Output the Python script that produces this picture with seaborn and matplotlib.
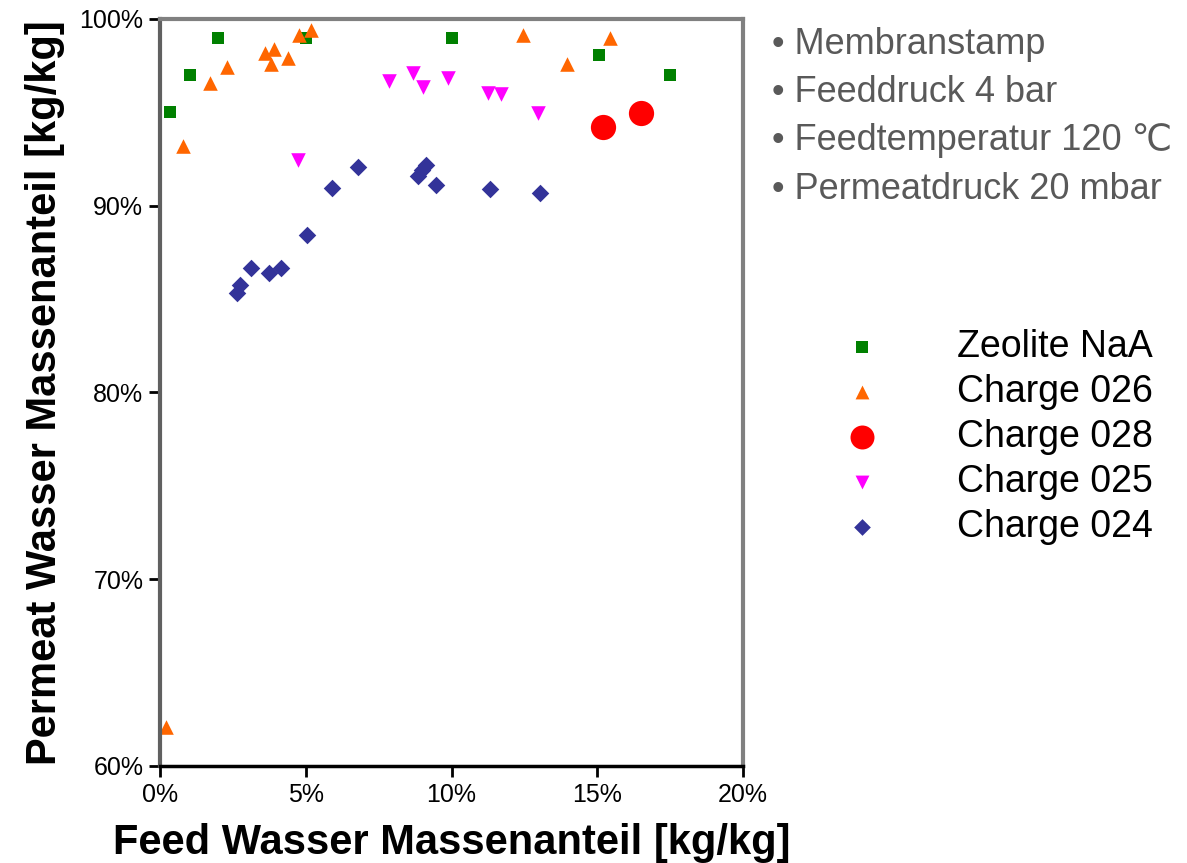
import seaborn as sns
import matplotlib.pyplot as plt
import pandas as pd

# Feed / permeat water mass fractions in %
zeolite_x = [0.34, 1.03, 2.0, 5.0, 10.0, 15.05, 17.5]
zeolite_y = [95.0, 97.0, 99.0, 99.0, 99.0, 98.05, 97.0]

c026_x = [0.2, 0.79, 1.72, 2.29, 3.6, 3.82, 3.9, 4.4, 4.77, 5.18, 12.45, 13.96, 15.44]
c026_y = [62.1, 93.2, 96.55, 97.45, 98.2, 97.6, 98.4, 97.9, 99.15, 99.4, 99.15, 97.6, 99.0]

c028_x = [15.2, 16.5]
c028_y = [94.2, 94.95]

c025_x = [4.73, 7.86, 8.68, 9.02, 9.88, 11.25, 11.7, 12.97]
c025_y = [92.45, 96.7, 97.1, 96.35, 96.85, 96.05, 96.0, 94.95]

c024_x = [2.63, 2.74, 3.12, 3.74, 4.15, 5.03, 5.9, 6.78, 8.85, 9.0, 9.11, 9.46, 11.31, 13.04]
c024_y = [85.35, 85.75, 86.67, 86.38, 86.65, 88.45, 90.95, 92.05, 91.6, 91.9, 92.2, 91.13, 90.92, 90.7]

series_names = ["Zeolite NaA", "Charge 026", "Charge 028", "Charge 025", "Charge 024"]
series_x = [zeolite_x, c026_x, c028_x, c025_x, c024_x]
series_y = [zeolite_y, c026_y, c028_y, c025_y, c024_y]

colors = ["#008000", "#FF6600", "#FF0000", "#FF00FF", "#333399"]
markers = ["s", "^", "o", "v", "D"]
sizes = [80, 110, 330, 110, 80]

notes = ["Membranstamp", "Feeddruck 4 bar", "Feedtemperatur 120 \u2103", "Permeatdruck 20 mbar"]

sns.set_style("white")
plt.rcParams["font.family"] = ["Liberation Sans", "DejaVu Sans"]
plt.rcParams["text.color"] = "black"
plt.rcParams["axes.labelcolor"] = "black"
plt.rcParams["xtick.color"] = "black"
plt.rcParams["ytick.color"] = "black"

fig = plt.figure(figsize=(11.87, 8.63), dpi=100)
ax = fig.add_axes([0.1348, 0.1124, 0.4912, 0.8656])

for name, xs, ys, c, m, s in zip(series_names, series_x, series_y, colors, markers, sizes):
    df = pd.DataFrame({"feed": [v / 100 for v in xs], "perm": [v / 100 for v in ys]})
    sns.scatterplot(data=df, x="feed", y="perm", ax=ax, color=c, marker=m, s=s,
                    linewidth=0, label=name)

ax.set_xlim(0, 0.2)
ax.set_ylim(0.6, 1.0)
ax.set_xticks([0, 0.05, 0.1, 0.15, 0.2])
ax.set_yticks([0.6, 0.7, 0.8, 0.9, 1.0])
ax.set_xticklabels(["0%", "5%", "10%", "15%", "20%"])
ax.set_yticklabels(["60%", "70%", "80%", "90%", "100%"])
ax.tick_params(axis="both", direction="out", length=8, width=2, color="black",
               labelcolor="black", labelsize=18, pad=4, left=True, bottom=True)

for side in ["top", "right"]:
    ax.spines[side].set_color("#808080")
    ax.spines[side].set_linewidth(3)
ax.spines["left"].set_color("#606060")
ax.spines["left"].set_linewidth(3)
ax.spines["bottom"].set_color("black")
ax.spines["bottom"].set_linewidth(2.5)

ax.set_xlabel("Feed Wasser Massenanteil [kg/kg]", fontsize=30, fontweight="bold",
              color="black", labelpad=12)
ax.set_ylabel("Permeat Wasser Massenanteil [kg/kg]", fontsize=30, fontweight="bold",
              color="black", labelpad=10)

# Conditions text at upper right
for i, line in enumerate(notes):
    fig.text(0.650, 1 - (44 + i * 48.5) / 863, "\u2022 " + line, fontsize=26,
             color="#595959", va="center", ha="left")

handles, labels = ax.get_legend_handles_labels()
ax.legend(handles, labels, loc="upper left", bbox_to_anchor=(0.6977, 0.636),
          bbox_transform=fig.transFigure, frameon=False, fontsize=27,
          handlelength=1.0, handletextpad=2.03, labelspacing=0.24,
          markerscale=0.95, borderaxespad=0)

fig.savefig("out.png", dpi=100)
